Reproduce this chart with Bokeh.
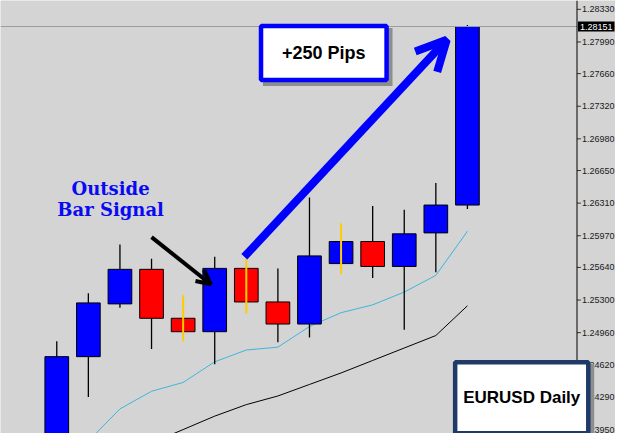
from bokeh.plotting import figure
from bokeh.models import Span, Label, Arrow, OpenHead, ColumnDataSource
from bokeh.embed import file_html
from bokeh.resources import INLINE
from bokeh.core.properties import value

# ---------------- data ----------------
bar_index = list(range(14))
opens = [1.2382, 1.2471, 1.2526, 1.2562, 1.2511, 1.2497, 1.2563, 1.2528, 1.2505, 1.2568, 1.2591, 1.2565, 1.2600, 1.2629]
closes = [1.2471, 1.2527, 1.2562, 1.2511, 1.2497, 1.2563, 1.2528, 1.2505, 1.2576, 1.2591, 1.2565, 1.2599, 1.2629, 1.28151]
highs = [1.2487, 1.2537, 1.2588, 1.2573, 1.2535, 1.2575, 1.2573, 1.2563, 1.2637, 1.2610, 1.2628, 1.2624, 1.2652, 1.28166]
lows = [1.2370, 1.2429, 1.2522, 1.2479, 1.2487, 1.2463, 1.2516, 1.2486, 1.2491, 1.2557, 1.2553, 1.2499, 1.2559, 1.2625]
yellow_wick = [False, False, False, False, True, False, True, False, False, True, False, False, False, False]

fast_ma_index = list(range(1, 14))
fast_ma = [1.2383, 1.24165, 1.24349, 1.24441, 1.24656, 1.24779, 1.24809, 1.25024, 1.25168, 1.25250, 1.25383, 1.25557, 1.26017]
slow_ma_index = list(range(3, 14))
slow_ma = [1.2381, 1.2395, 1.2409, 1.2421, 1.2430, 1.2442, 1.2454, 1.2467, 1.2480, 1.2493, 1.2524]

price_ticks = [1.28330, 1.27990, 1.27660, 1.27320, 1.26980, 1.26650, 1.26310,
               1.25970, 1.25640, 1.25300, 1.24960, 1.24620, 1.24290, 1.23950]
tick_labels = ["1.28330", "1.27990", "1.27660", "1.27320", "1.26980", "1.26650", "1.26310",
               "1.25970", "1.25640", "1.25300", "1.24960", "1.24620", "1.24290", "1.23950"]
last_price = 1.28151
last_price_label = "1.28151"

# ---------------- helpers (layout px of the 623x441 chart -> data) ----------------
def dx(px):
    return (px - 57) / 32.0

def dy(py):
    return 1.2833 - (py - 9) * 0.00010234

BG = "#d4d4d4"

p = figure(width=615, height=433, x_range=(dx(0), dx(623)), y_range=(dy(441), dy(0)),
           output_backend="svg", toolbar_location=None, x_axis_location=None, y_axis_location=None,
           min_border=0, background_fill_color=BG, border_fill_color=BG, outline_line_color=None)
p.grid.visible = False

# current price line
p.add_layout(Span(location=last_price, dimension="width", line_color="#9c9c9c", line_width=1))

# price scale (right)
n = len(price_ticks)
p.add_layout(Span(location=dx(584), dimension="height", line_color="black", line_width=1))
p.segment(x0=[dx(584)] * n, y0=price_ticks, x1=[dx(588)] * n, y1=price_ticks,
          line_color="#333333", line_width=1)
p.text(x=[dx(589)] * n, y=price_ticks, text=tick_labels, text_align="left", text_baseline="middle",
       text_font=value("Liberation Sans"), text_font_size="9px", text_color="#1a1a1a")

# moving averages
p.line(slow_ma_index, slow_ma, line_color="black", line_width=1)
p.line(fast_ma_index, fast_ma, line_color="#3cb6dc", line_width=1)

# candles
bottoms = [min(o, c) for o, c in zip(opens, closes)]
tops = [max(o, c) for o, c in zip(opens, closes)]
colors = ["#0000ff" if c >= o else "#ff0000" for o, c in zip(opens, closes)]

src = ColumnDataSource(dict(x=bar_index, bottom=bottoms, top=tops, color=colors))
black_idx = [i for i in bar_index if not yellow_wick[i]]
yel_idx = [i for i in bar_index if yellow_wick[i]]
src_b = ColumnDataSource(dict(x=[bar_index[i] for i in black_idx], high=[highs[i] for i in black_idx],
                              low=[lows[i] for i in black_idx]))
src_y = ColumnDataSource(dict(x=[bar_index[i] for i in yel_idx], high=[highs[i] for i in yel_idx],
                              low=[lows[i] for i in yel_idx]))

p.segment(x0="x", y0="low", x1="x", y1="high", line_color="black", line_width=1.3, source=src_b)
p.vbar(x="x", width=0.75, bottom="bottom", top="top", fill_color="color", line_color="black",
       line_width=1, source=src)
p.segment(x0="x", y0="low", x1="x", y1="high", line_color="#ffcc00", line_width=2, source=src_y)

# highlighted last price on the scale
p.add_layout(Label(x=dx(585), y=last_price, text=last_price_label, text_align="left",
                   text_baseline="middle", text_font="Liberation Sans", text_font_size="9px",
                   text_color="white", background_fill_color="black", padding=(2, 2)))

# arrows
p.add_layout(Arrow(x_start=dx(153), y_start=dy(241), x_end=dx(213), y_end=dy(289),
                   line_color="black", line_width=4,
                   end=OpenHead(line_color="black", line_width=4, size=14)))
p.add_layout(Arrow(x_start=dx(247), y_start=dy(261), x_end=dx(452), y_end=dy(40),
                   line_color="#0000ff", line_width=8,
                   end=OpenHead(line_color="#0000ff", line_width=8, size=30)))

# Outside Bar Signal text
for txt, cy in (("Outside", 191), ("Bar Signal", 213)):
    p.add_layout(Label(x=dx(111.5), y=dy(cy), text=txt, text_align="center", text_baseline="middle",
                       text_font="DejaVu Serif", text_font_style="bold", text_font_size="18px",
                       text_color="#0a0af2"))

# boxes with shadow
SHADOW = "#8e8e8e"

def boxed(text, cx, cy, padx, pady, size, border):
    p.add_layout(Label(x=dx(cx + 4), y=dy(cy + 4), text=text, text_align="center",
                       text_baseline="middle", text_font="Liberation Sans", text_font_style="bold",
                       text_font_size=size, text_color=SHADOW, background_fill_color=SHADOW,
                       padding=(padx + 2, pady + 2)))
    p.add_layout(Label(x=dx(cx), y=dy(cy), text=text, text_align="center", text_baseline="middle",
                       text_font="Liberation Sans", text_font_style="bold", text_font_size=size,
                       text_color="black", background_fill_color="white",
                       border_line_color=border, border_line_width=4.5, padding=(padx, pady)))

boxed("+250 Pips", 327.5, 53.5, 21, 17, "18px", "#0000ff")
boxed("EURUSD Daily", 528, 404.5, 8, 26, "17px", "#1f3a68")

open("out.html", "w").write(file_html(p, INLINE))
